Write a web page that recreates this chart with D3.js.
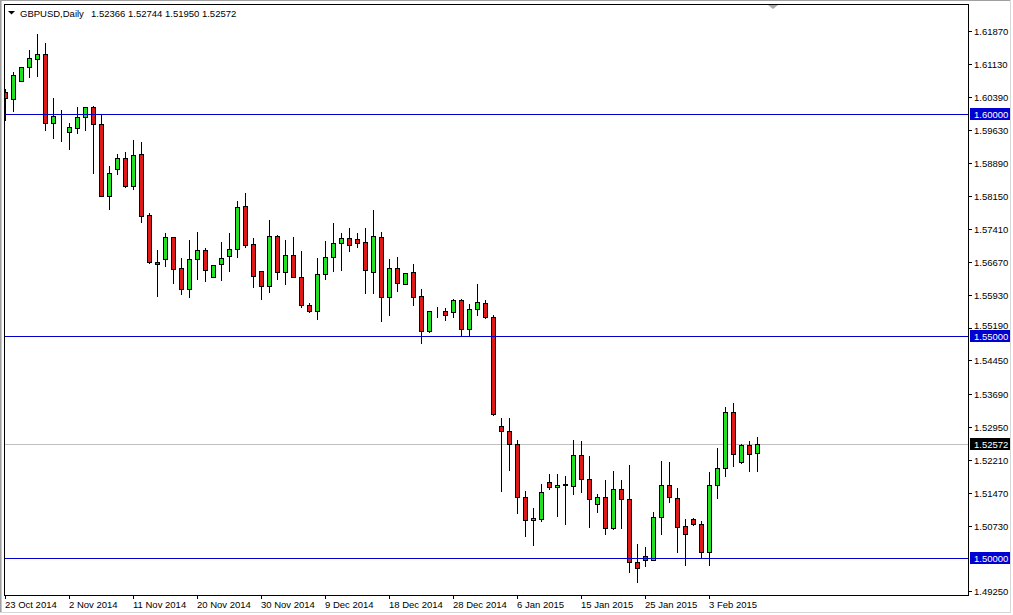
<!DOCTYPE html>
<html><head><meta charset="utf-8">
<script src="https://cdn.jsdelivr.net/npm/d3@7"></script>
<style>
html,body{margin:0;padding:0;background:#fff;overflow:hidden}
svg{display:block}
text{font-family:"Liberation Sans",Arial,sans-serif;font-size:9.5px;fill:#000}
</style>
</head><body>
<svg id="chart" width="1013" height="615"></svg>
<script>
const symbolTitle = "GBPUSD,Daily";
const headerValues = "1.52366 1.52744 1.51950 1.52572";

const open = [
1.60502,1.60345,1.6075,1.61052,1.61246,1.61351,1.59791,1.59926,1.59601,1.59678,
1.59926,1.60151,1.59768,1.5816,1.58754,1.59002,1.58372,1.59092,1.57718,1.5666,
1.56727,1.57236,1.56525,1.56052,1.56727,1.56944,1.56336,1.56628,1.56795,1.56953,
1.57921,1.57065,1.56457,1.56133,1.57245,1.56435,1.56818,1.56336,1.55691,1.55556,
1.5639,1.56772,1.57088,1.572,1.57178,1.5711,1.56448,1.57223,1.55885,1.56525,
1.56164,1.56435,1.55894,1.55119,1.55556,1.55556,1.55534,1.55804,1.55151,1.55601,
1.55736,1.55421,1.52973,1.52853,1.52561,1.51367,1.50849,1.50885,1.51705,1.51592,
1.5166,1.51628,1.5232,1.51772,1.51216,1.51367,1.50669,1.51547,1.51322,1.49903,
1.50052,1.49955,1.5093,1.51637,1.51344,1.50714,1.50871,1.50759,1.50142,1.51637,
1.5202,1.53281,1.52169,1.52545,1.52366];
const high = [
1.60586,1.60975,1.61081,1.61457,1.61831,1.61628,1.60376,1.60106,1.59813,1.6018,
1.6018,1.60196,1.60016,1.58851,1.59115,1.59167,1.59444,1.59399,1.57786,1.56953,
1.57342,1.5724,1.56772,1.57178,1.57365,1.56998,1.56612,1.5714,1.57342,1.58063,
1.58243,1.57236,1.56462,1.57628,1.57297,1.57178,1.57252,1.56937,1.55766,1.56772,
1.57162,1.57568,1.57342,1.57448,1.57336,1.57448,1.57854,1.57365,1.5675,1.56795,
1.5643,1.56651,1.56074,1.55586,1.55676,1.5566,1.55849,1.55849,1.55736,1.56187,
1.55833,1.55495,1.53169,1.53169,1.52673,1.51531,1.51142,1.51682,1.51907,1.51907,
1.51869,1.5268,1.52657,1.5232,1.51457,1.51779,1.51982,1.51779,1.52117,1.50331,
1.5027,1.51065,1.52207,1.52185,1.51599,1.50908,1.5093,1.50856,1.51959,1.52507,
1.53423,1.53507,1.52597,1.52657,1.52744];
const low = [
1.59865,1.60074,1.60745,1.6084,1.60856,1.5964,1.5946,1.59399,1.59218,1.59579,
1.5964,1.58664,1.58153,1.57867,1.58649,1.58365,1.58318,1.57574,1.56655,1.55901,
1.56576,1.56187,1.55946,1.55872,1.5629,1.56239,1.56322,1.56261,1.56471,1.56772,
1.57011,1.5611,1.55827,1.55991,1.5629,1.56164,1.5633,1.5566,1.55534,1.5539,
1.56277,1.56457,1.56486,1.56921,1.57011,1.55975,1.55975,1.55345,1.55466,1.5602,
1.5616,1.55698,1.54836,1.55097,1.55421,1.5536,1.55421,1.55007,1.55007,1.55466,
1.55399,1.5323,1.51516,1.51982,1.5102,1.50502,1.50293,1.5084,1.51561,1.50946,
1.50759,1.51441,1.5148,1.50705,1.51043,1.50534,1.5066,1.50682,1.49691,1.49466,
1.4982,1.4995,1.50534,1.51268,1.50142,1.49842,1.50743,1.50029,1.49842,1.51358,
1.51847,1.52079,1.52133,1.51966,1.5195];
const close = [
1.60354,1.60878,1.61059,1.61255,1.61351,1.59791,1.59948,1.5993,1.597,1.59926,
1.60151,1.59768,1.5816,1.58678,1.59002,1.58372,1.5907,1.57709,1.5666,1.56615,
1.57236,1.56516,1.56052,1.56727,1.56944,1.5648,1.56606,1.56763,1.56953,1.57899,
1.57056,1.56358,1.56133,1.57245,1.56435,1.56818,1.56336,1.55705,1.55556,1.5639,
1.56772,1.57088,1.572,1.57043,1.57101,1.5648,1.57245,1.55885,1.56525,1.56187,
1.56426,1.55885,1.55119,1.5557,1.55556,1.55466,1.55804,1.55151,1.55601,1.55759,
1.55421,1.53236,1.52853,1.52561,1.51367,1.50849,1.50894,1.5148,1.51606,1.51637,
1.51645,1.5232,1.51772,1.51322,1.51367,1.50669,1.51547,1.51322,1.49903,1.49768,
1.49955,1.5093,1.51637,1.51367,1.50691,1.50534,1.50759,1.50142,1.51637,1.5202,
1.53281,1.52335,1.52545,1.52335,1.52572];

const firstDate = "2014-10-23";
const xTickLabels = ["23 Oct 2014","2 Nov 2014","11 Nov 2014","20 Nov 2014","30 Nov 2014","9 Dec 2014","18 Dec 2014","28 Dec 2014","6 Jan 2015","15 Jan 2015","25 Jan 2015","3 Feb 2015"];
const yTickLabels = [1.61870,1.61130,1.60390,1.59630,1.58890,1.58150,1.57410,1.56670,1.55930,1.55190,1.54450,1.53690,1.52950,1.52210,1.51470,1.50730,1.49250];
const levelLines = [1.60000,1.55000,1.50000];
const lastPrice = 1.52572;

// trading-day categories (broker has Sunday bars, no Saturday bars)
const fmt = d3.timeFormat("%-d %b %Y");
const parse = d3.timeParse("%Y-%m-%d");
const dates = [];
let dt = parse(firstDate);
while (dates.length < open.length) {
  if (dt.getDay() !== 6) dates.push(fmt(dt));
  dt = d3.timeDay.offset(dt, 1);
}
const bars = dates.map((d,i)=>({d, o:open[i], h:high[i], l:low[i], c:close[i]}));

const L = 4, T = 4, R = 968, B = 595;
const svg = d3.select("#chart");

// outer window border
svg.append("rect").attr("x",0).attr("y",0).attr("width",1013).attr("height",615).attr("fill","#fff");
svg.append("line").attr("x1",0).attr("x2",1011).attr("y1",0.5).attr("y2",0.5).attr("stroke","#a0a0a0");
svg.append("line").attr("x1",0.5).attr("x2",0.5).attr("y1",0).attr("y2",613).attr("stroke","#a0a0a0");
svg.append("line").attr("x1",1.5).attr("x2",1.5).attr("y1",1).attr("y2",613).attr("stroke","#c8c8c8");
svg.append("line").attr("x1",1010.5).attr("x2",1010.5).attr("y1",0).attr("y2",613).attr("stroke","#d8d8d8");
svg.append("line").attr("x1",0).attr("x2",1011).attr("y1",612.5).attr("y2",612.5).attr("stroke","#d8d8d8");

const x = d3.scaleBand().domain(dates).range([1.5, 1.5 + 8*dates.length]).padding(0);
const cx = d => x(d) + x.bandwidth()/2;
const y = d3.scaleLinear().domain([1.5, 1.6]).range([558, 114]);
const py = v => Math.round(y(v)) + 0.5;

svg.append("defs").append("clipPath").attr("id","plot")
  .append("rect").attr("x",L+1).attr("y",T+1).attr("width",R-L-1).attr("height",B-T-1);
const plot = svg.append("g").attr("clip-path","url(#plot)").attr("shape-rendering","crispEdges");

// current price line
plot.append("line").attr("x1",L).attr("x2",R).attr("y1",py(lastPrice)).attr("y2",py(lastPrice))
  .attr("stroke","#c0c0c0");

// candles
const cg = plot.selectAll("g.bar").data(bars).join("g").attr("class","bar");
cg.append("line")
  .attr("x1",d=>cx(d.d)).attr("x2",d=>cx(d.d))
  .attr("y1",d=>py(d.h)).attr("y2",d=>py(d.l))
  .attr("stroke","#000");
cg.append("rect")
  .attr("x",d=>cx(d.d)-2).attr("width",4)
  .attr("y",d=>py(Math.max(d.o,d.c)))
  .attr("height",d=>Math.max(0, py(Math.min(d.o,d.c)) - py(Math.max(d.o,d.c))))
  .attr("fill",d=>d.c>d.o ? "#22e022" : (d.c<d.o ? "#e01818" : "none"))
  .attr("stroke","#000");

// horizontal level lines
plot.selectAll("line.lvl").data(levelLines).join("line").attr("class","lvl")
  .attr("x1",L).attr("x2",R).attr("y1",d=>py(d)).attr("y2",d=>py(d))
  .attr("stroke","#0000c8");

// chart-shift marker
svg.append("path").attr("d","M768,5 L778,5 L773,9 Z").attr("fill","#a8a8a8");

// frame
svg.append("rect").attr("x",L+0.5).attr("y",T+0.5).attr("width",R-L).attr("height",B-T)
  .attr("fill","none").attr("stroke","#000").attr("shape-rendering","crispEdges");

// header
svg.append("path").attr("d","M8,11 L15,11 L11.5,14.5 Z").attr("fill","#000");
svg.append("text").attr("x",20).attr("y",17).text(symbolTitle);
svg.append("text").attr("x",91).attr("y",17).text(headerValues);

// right price axis
const hl = levelLines.map(v=>({v, bg:"#0000d0"})).concat([{v:lastPrice, bg:"#000"}]);
const labelY = v => {
  let yy = Math.round(y(v));
  hl.forEach(h => {
    const hy = Math.round(y(h.v));
    const dd = yy - hy;
    if (Math.abs(dd) < 11 && Math.abs(dd) > 0) yy = hy + (dd < 0 ? -11 : 11);
  });
  return yy;
};
const ya = svg.append("g");
const yt = ya.selectAll("g").data(yTickLabels).join("g");
yt.append("line").attr("x1",R).attr("x2",R+4).attr("y1",d=>py(d)).attr("y2",d=>py(d))
  .attr("stroke","#000").attr("shape-rendering","crispEdges");
yt.append("text").attr("x",974).attr("y",d=>labelY(d)+3.5).text(d=>d3.format(".5f")(d));

// highlighted labels
const hg = svg.selectAll("g.hl").data(hl).join("g").attr("class","hl");
hg.append("rect").attr("x",970).attr("width",40).attr("y",d=>Math.round(y(d.v))-6).attr("height",12)
  .attr("fill",d=>d.bg);
hg.append("text").attr("x",974).attr("y",d=>Math.round(y(d.v))+3.5).style("fill","#fff").text(d=>d3.format(".5f")(d.v));

// bottom time axis
const xa = svg.append("g");
const xt = xa.selectAll("g").data(xTickLabels).join("g");
xt.append("line").attr("x1",d=>Math.floor(cx(d))+0.5).attr("x2",d=>Math.floor(cx(d))+0.5)
  .attr("y1",B).attr("y2",B+4).attr("stroke","#000").attr("shape-rendering","crispEdges");
xt.append("text").attr("x",d=>Math.floor(cx(d))).attr("y",608).text(d=>d);
</script>
</body></html>
